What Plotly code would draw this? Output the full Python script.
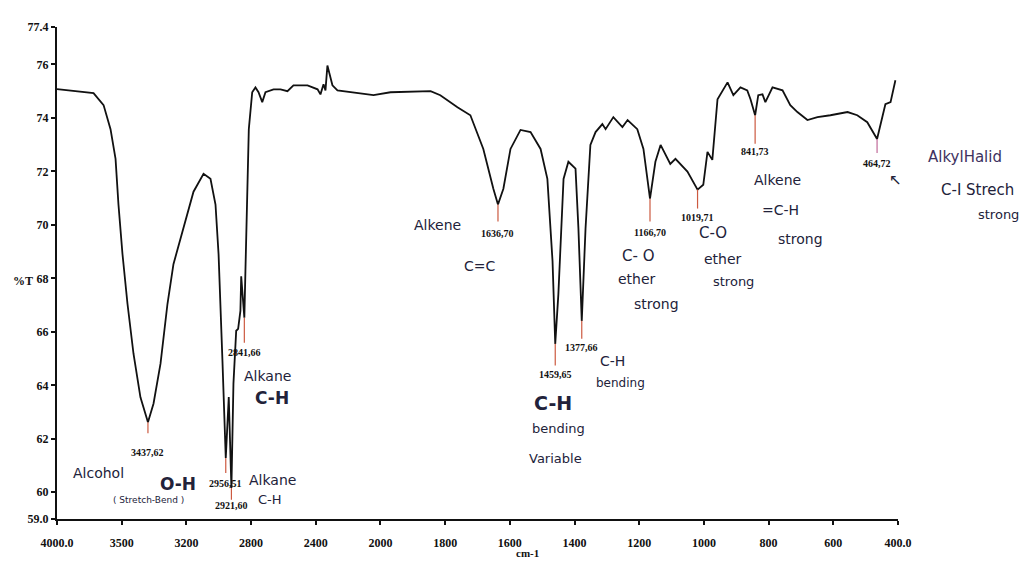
import numpy as np
import plotly.graph_objects as go

# ---------------- data ----------------
wavenumber = [4000, 3917, 3774, 3712, 3669, 3638, 3620, 3595, 3564, 3527, 3484, 3437.62, 3403, 3360,
              3317, 3280, 3218, 3156, 3094, 3051, 3020, 3001, 2977, 2956.51, 2938, 2921.60, 2909,
              2892, 2880, 2866, 2861, 2849, 2841.66, 2835, 2824, 2814, 2793, 2773, 2754, 2731,
              2711, 2661, 2618, 2575, 2538, 2451, 2389, 2371, 2352, 2340, 2328, 2297, 2266, 2167,
              2043, 1969, 1845, 1815, 1762, 1722, 1682, 1651, 1636.70, 1620, 1598, 1567, 1536,
              1505, 1484, 1468, 1459.65, 1450, 1434, 1419, 1397, 1388, 1377.66, 1366, 1351, 1335,
              1314, 1304, 1280, 1252, 1236, 1206, 1187, 1166.70, 1150, 1134, 1104, 1088, 1051,
              1019.71, 1002, 989, 974, 958, 927, 909, 887, 866, 856, 841.73, 832, 819, 810, 788,
              757, 733, 711, 680, 649, 609, 556, 526, 495, 464.72, 454, 439, 423, 408]
transmittance = [75.08, 75.03, 74.93, 74.48, 73.58, 72.47, 70.76, 68.90, 67.04, 65.18, 63.55, 62.62,
                 63.32, 64.81, 67.04, 68.53, 69.87, 71.24, 71.91, 71.72, 70.76, 68.90, 64.92, 61.28,
                 63.56, 60.16, 64.07, 66.04, 66.11, 66.78, 68.08, 67.15, 66.53, 68.27, 71.13, 73.58,
                 74.96, 75.14, 74.96, 74.59, 74.96, 75.07, 75.07, 75.00, 75.22, 75.22, 75.07, 74.88,
                 75.26, 75.03, 75.96, 75.22, 75.03, 74.96, 74.85, 74.96, 75.00, 74.85, 74.40, 74.10,
                 72.84, 71.35, 70.76, 71.35, 72.84, 73.55, 73.47, 72.84, 71.72, 68.64, 65.55, 67.41,
                 71.72, 72.36, 72.10, 69.87, 66.41, 69.87, 72.99, 73.47, 73.77, 73.58, 74.03, 73.66,
                 73.92, 73.58, 72.84, 70.98, 72.36, 72.99, 72.28, 72.47, 71.99, 71.32, 71.50, 72.73,
                 72.43, 74.70, 75.33, 74.85, 75.14, 75.03, 74.70, 74.10, 74.85, 74.88, 74.59, 75.14,
                 75.03, 74.48, 74.22, 73.92, 74.03, 74.10, 74.22, 74.10, 73.84, 73.21, 73.73, 74.51,
                 74.59, 75.41]

x_tick_wn = [4000, 3600, 3200, 2800, 2400, 2000, 1800, 1600, 1400, 1200, 1000, 800, 600, 400]
x_tick_text = ["4000.0", "3500", "3200", "2800", "2400", "2000", "1800", "1600", "1400", "1200",
               "1000", "800", "600", "400.0"]
y_tick_vals = [59, 60, 62, 64, 66, 68, 70, 72, 74, 76, 77.4]
y_tick_text = ["59.0", "60", "62", "64", "66", "68", "70", "72", "74", "76", "77.4"]

peak_wn = [3437.62, 2956.51, 2921.60, 2841.66, 1636.70, 1459.65, 1377.66, 1166.70, 1019.71, 841.73, 464.72]
peak_T = [62.62, 61.28, 60.16, 66.53, 70.76, 65.55, 66.41, 70.98, 71.32, 74.10, 73.21]
peak_line_end_T = [62.21, 60.72, 59.72, 65.59, 70.13, 64.74, 65.74, 70.13, 70.61, 73.03, 72.69]
peak_label_T = [61.50, 60.31, 59.49, 65.22, 69.68, 64.40, 65.41, 69.72, 70.28, 72.73, 72.28]
peak_labels = ["3437,62", "2956,51", "2921,60", "2841,66", "1636,70", "1459,65", "1377,66",
               "1166,70", "1019,71", "841,73", "464,72"]

# handwritten notes: text, axis position, %T, size, bold
note_text = ["Alcohol", "O-H", "( Stretch-Bend )", "Alkane", "C-H", "Alkane", "C-H",
             "Alkene", "C=C", "C-H", "bending", "Variable", "C-H", "bending",
             "C- O", "ether", "strong", "C-O", "ether", "strong",
             "Alkene", "=C-H", "strong", "↖", "AlkylHalid", "C-I Strech", "strong"]
note_pos = [0.641, 1.878, 1.414, 3.331, 3.300, 3.253, 3.331,
            5.881, 6.546, 7.674, 7.751, 7.705, 8.586, 8.710,
            8.988, 8.972, 9.266, 10.147, 10.301, 10.456,
            11.136, 11.182, 11.491, 12.960, 14.040, 14.230, 14.560]
note_T = [60.72, 60.31, 59.72, 60.46, 59.72, 64.36, 63.51,
          70.01, 68.45, 63.32, 62.39, 61.28, 64.92, 64.07,
          68.83, 67.97, 67.04, 69.68, 68.71, 67.90,
          71.69, 70.57, 69.49, 71.69, 72.54, 71.32, 70.39]
note_size = [14, 17, 9, 14, 13, 14, 17,
             14, 14, 19, 13, 13, 14, 12,
             15, 14, 14, 15, 14, 13,
             14, 14, 14, 15, 15, 15, 13]
note_bold = [False, True, False, False, False, False, True,
             False, False, True, False, False, False, False,
             False, False, False, False, False, False,
             False, False, False, False, False, False, False]
note_color = ["#22223a"] * 24 + ["#3e3260", "#22223a", "#22223a"]

X_MAX = 13.0


def wn_to_pos(w):
    w = np.asarray(w, dtype=float)
    return np.where(w >= 2000, (4000 - w) / 400.0, 5 + (2000 - w) / 200.0)


xs = wn_to_pos(wavenumber)
fig = go.Figure()
fig.add_trace(go.Scatter(x=xs, y=transmittance, mode="lines",
                         line=dict(color="#111111", width=1.8), hoverinfo="skip",
                         showlegend=False))

pk_pos = wn_to_pos(peak_wn)
colors = ["#cc5a40"] * (len(peak_wn) - 1) + ["#c06a9a"]
for i, (p, t0, t1) in enumerate(zip(pk_pos, peak_T, peak_line_end_T)):
    fig.add_trace(go.Scatter(x=[p, p], y=[t0, t1], mode="lines",
                             line=dict(color=colors[i], width=1.2), hoverinfo="skip",
                             showlegend=False))

for p, t, lab in zip(pk_pos, peak_label_T, peak_labels):
    fig.add_annotation(x=p, y=t, text="<b>" + lab + "</b>", showarrow=False,
                       font=dict(family="Liberation Serif", size=10, color="#111111"),
                       xanchor="center", yanchor="middle")

for txt, p, t, s, b, c in zip(note_text, note_pos, note_T, note_size, note_bold, note_color):
    fig.add_annotation(xref="paper", yref="y", x=p / X_MAX, y=t,
                       text=("<b>" + txt + "</b>") if b else txt, showarrow=False,
                       font=dict(family="DejaVu Sans", size=s, color=c),
                       xanchor="center", yanchor="middle")

fig.add_annotation(xref="paper", yref="paper", x=-0.026, y=0.483, text="<b>%T</b>",
                   xanchor="right", showarrow=False,
                   font=dict(family="Liberation Serif", size=12, color="#111"))
fig.add_annotation(xref="paper", yref="paper", x=0.559, y=-0.086, text="<b>cm-1</b>",
                   showarrow=False, font=dict(family="Liberation Serif", size=11, color="#111"))

fig.update_layout(
    width=1022, height=557, autosize=False,
    margin=dict(l=49, r=132, t=16, b=46),
    paper_bgcolor="white", plot_bgcolor="white",
    xaxis=dict(range=[0, X_MAX], tickvals=wn_to_pos(x_tick_wn).tolist(), ticktext=x_tick_text,
               showgrid=False, zeroline=False, showline=True, linecolor="#111", linewidth=2,
               ticks="outside", ticklen=4, tickwidth=1.5, tickcolor="#111",
               ticklabelstandoff=8,
               tickfont=dict(family="Liberation Serif", size=12, color="#111", weight="bold")),
    yaxis=dict(range=[59, 77.4], tickvals=y_tick_vals, ticktext=y_tick_text,
               showgrid=False, zeroline=False, showline=True, linecolor="#111", linewidth=2,
               ticks="outside", ticklen=4, tickwidth=1.5, tickcolor="#111",
               tickfont=dict(family="Liberation Serif", size=12, color="#111", weight="bold")),
)

fig.write_html("out.html")
